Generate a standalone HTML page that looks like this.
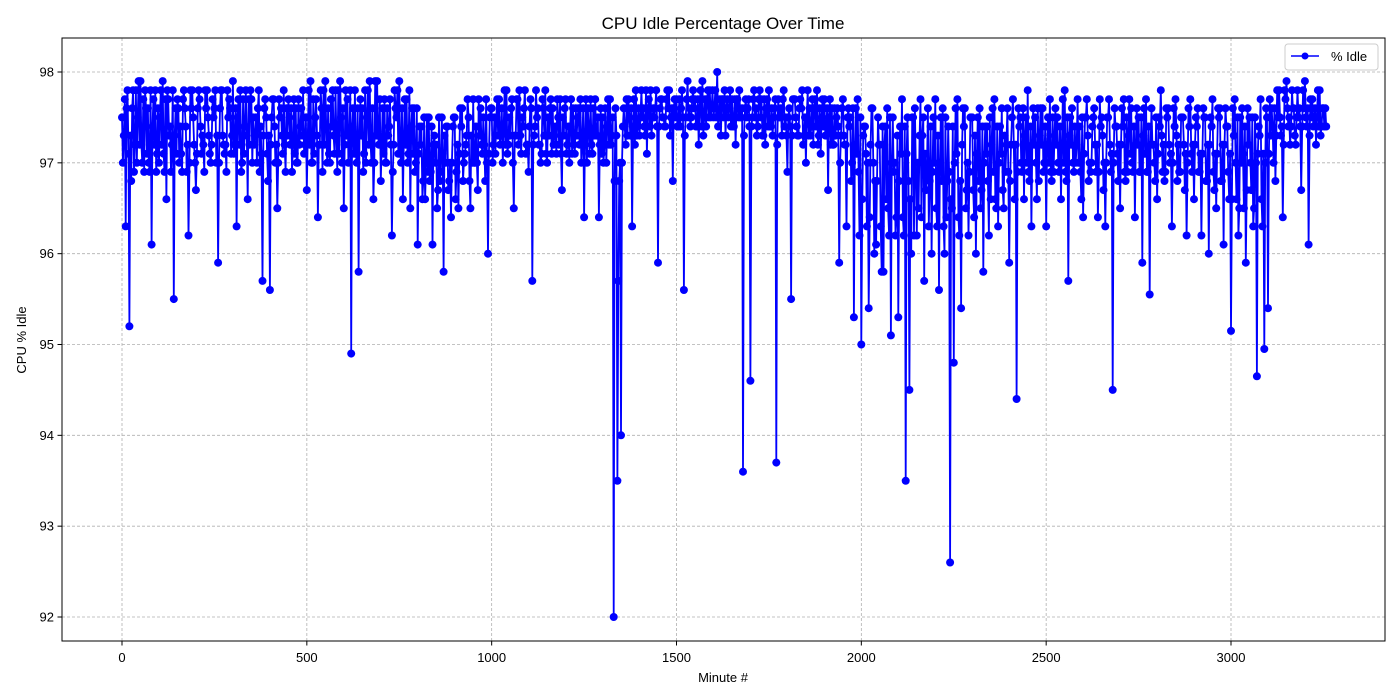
<!DOCTYPE html>
<html><head><meta charset="utf-8"><style>
html,body{margin:0;padding:0;background:#fff;}
svg{display:block;font-family:"Liberation Sans","DejaVu Sans",sans-serif;}
</style></head><body>
<svg id="chart" width="1400" height="700" xmlns="http://www.w3.org/2000/svg">
<rect width="1400" height="700" fill="#fff"/>
<text x="723" y="29" font-size="17" text-anchor="middle">CPU Idle Percentage Over Time</text>
<g id="grid"></g>
<g id="series"></g>
<rect x="62" y="38" width="1323" height="603" fill="none" stroke="#000" stroke-width="1"/>
<g id="axes"></g>
<text x="723" y="682" font-size="13" text-anchor="middle">Minute #</text>
<text x="26" y="340" font-size="13" text-anchor="middle" transform="rotate(-90 26 340)">CPU % Idle</text>
<g>
<rect x="1285" y="44" width="93" height="26" rx="3" fill="#fff" fill-opacity="0.8" stroke="#ccc"/>
<line x1="1291" y1="56" x2="1319" y2="56" stroke="#0000ff" stroke-width="1.5"/>
<circle cx="1305" cy="56" r="3.5" fill="#0000ff"/>
<text x="1331" y="61" font-size="13">% Idle</text>
</g>
</svg>
<script>
const stepMinutes = 10;
// sample at each 10-minute mark
const idleValues = [
97.5,96.3,95.2,97.8,97.0,97.9,96.9,97.6,96.1,97.8,
97.0,97.9,96.6,97.4,95.5,97.7,97.1,97.6,96.2,97.8,
96.7,97.7,97.2,97.8,97.0,97.6,95.9,97.8,97.2,97.7,
97.9,96.3,97.8,97.1,96.6,97.7,97.3,97.8,95.7,97.5,
95.6,97.7,96.5,97.6,97.2,97.7,96.9,97.6,97.2,97.8,
96.7,97.9,97.1,96.4,97.6,97.9,97.1,97.8,97.3,97.9,
96.5,97.7,94.9,97.8,95.8,97.6,97.0,97.9,96.6,97.9,
96.8,97.7,97.3,96.2,97.6,97.9,96.6,97.7,96.5,97.6,
96.1,97.4,96.6,97.5,96.1,97.2,96.8,95.8,97.4,96.4,
97.5,96.5,97.6,97.2,96.8,97.7,97.0,97.6,97.2,96.0,
97.6,97.1,97.7,97.0,97.8,97.3,96.5,97.7,97.1,97.8,
96.9,95.7,97.8,97.2,97.6,97.0,97.7,97.3,97.5,96.7,
97.7,97.0,97.6,97.3,97.7,96.4,97.6,97.2,97.7,96.4,
97.5,97.0,97.7,92.0,93.5,94.0,97.4,97.7,96.3,97.8,
97.3,97.6,97.1,97.8,97.5,95.9,97.7,97.4,97.8,96.8,
97.7,97.4,95.6,97.9,97.5,97.7,97.2,97.9,97.4,97.8,
97.5,98.0,97.3,97.8,97.5,97.7,97.2,97.8,93.6,97.5,
94.6,97.8,97.4,97.7,97.2,97.8,97.3,93.7,97.5,97.8,
96.9,95.5,97.7,97.3,97.8,97.0,97.6,97.2,97.8,97.1,
97.7,96.7,97.6,97.3,95.9,97.7,96.3,97.5,95.3,97.7,
95.0,97.4,95.4,97.6,96.1,97.2,95.8,97.6,95.1,97.0,
95.3,97.7,93.5,94.5,97.5,96.2,97.7,95.7,97.6,96.0,
97.7,95.6,97.6,96.4,92.6,94.8,97.7,95.4,97.6,96.2,
97.5,96.0,97.6,95.8,97.4,96.6,97.7,96.3,97.6,96.9,
95.9,97.7,94.4,97.5,96.6,97.8,96.3,97.5,96.8,97.6,
96.3,97.7,96.9,97.5,96.6,97.8,95.7,97.6,97.0,97.4,
96.4,97.7,96.9,97.6,96.4,97.5,96.3,97.7,94.5,97.4,
96.5,97.7,96.9,97.6,96.4,97.5,95.9,97.7,95.55,97.2,
96.6,97.8,96.8,97.6,96.3,97.7,96.9,97.5,96.2,97.7,
96.6,97.6,96.2,97.5,96.0,97.7,96.5,97.6,96.1,97.4,
95.15,97.7,96.2,97.6,95.9,97.5,96.3,94.65,97.7,94.95,
95.4,97.6,96.8,97.8,96.4,97.9,97.2,97.6,97.8,96.7,
97.9,96.1,97.7,97.2,97.8,97.6
];
// sample at each 10-minute mark + 2.5 minutes
const idleValuesQ1 = [
97.0,97.6,97.3,96.9,97.5,97.2,97.8,97.0,97.4,96.9,
97.5,97.1,97.8,96.9,97.3,97.6,96.9,97.4,97.0,97.5,
97.1,97.4,96.9,97.5,97.2,97.8,97.0,97.3,96.9,97.6,
97.1,97.5,96.9,97.4,97.7,97.0,97.5,96.9,97.3,97.1,
97.2,97.4,97.0,97.3,96.9,97.5,97.2,97.0,97.4,97.1,
97.3,97.0,97.5,97.2,96.9,97.4,97.0,97.3,96.9,97.5,
97.2,97.0,97.4,97.1,97.3,96.9,97.5,97.2,97.0,97.3,
97.2,97.0,97.4,96.9,97.5,97.1,97.3,97.0,97.4,96.9,
97.1,96.6,97.0,96.8,97.2,96.5,96.9,97.3,96.7,97.0,
96.6,97.1,96.8,97.3,96.5,97.0,96.7,97.2,96.8,97.1,
97.0,97.5,97.2,97.4,97.1,97.6,97.3,97.2,97.5,97.1,
97.4,97.2,97.5,97.0,97.3,97.5,97.1,97.4,97.2,97.5,
97.1,97.4,97.2,97.5,97.0,97.3,97.4,97.1,97.3,97.2,
97.0,97.4,97.2,96.8,95.7,97.0,97.2,97.5,97.4,97.3,
97.5,97.4,97.6,97.3,97.6,97.4,97.5,97.7,97.3,97.6,
97.4,97.6,97.3,97.5,97.7,97.4,97.6,97.3,97.7,97.5,
97.6,97.4,97.7,97.3,97.6,97.4,97.7,97.5,97.3,97.6,
97.4,97.5,97.7,97.3,97.6,97.4,97.5,97.2,97.6,97.4,
97.5,97.3,97.5,97.6,97.2,97.5,97.3,97.6,97.2,97.5,
97.3,97.5,97.2,97.5,97.0,97.3,97.5,96.8,97.2,96.9,
96.6,97.1,96.4,97.0,96.8,96.3,97.2,96.5,97.0,96.2,
96.8,96.4,97.1,96.6,96.2,97.0,96.4,97.1,96.3,96.9,
96.5,97.0,96.3,96.8,96.6,97.0,96.4,97.2,96.5,96.9,
96.7,97.1,96.5,97.0,96.8,97.2,96.6,97.0,96.7,97.2,
96.8,97.2,96.9,97.0,97.3,96.9,97.2,97.0,97.3,96.9,
97.2,96.9,97.3,97.0,97.2,96.9,97.3,97.0,97.2,96.9,
97.1,97.3,97.0,97.2,96.9,97.3,97.0,97.2,97.0,97.1,
97.2,96.9,97.3,97.0,97.2,96.9,97.3,96.9,97.2,97.0,
97.1,97.3,96.9,97.2,97.0,97.3,96.9,97.2,97.0,97.1,
97.2,96.9,97.1,96.8,97.2,96.9,97.1,96.8,97.2,96.9,
96.6,97.0,96.5,97.1,96.7,97.0,96.5,97.1,96.6,97.0,
97.1,97.4,97.3,97.5,97.2,97.6,97.4,97.3,97.5,97.4,
97.5,97.3,97.4,97.5,97.3,97.4
];
// sample at each 10-minute mark + 5 minutes
const idleValuesMid = [
97.3,97.8,96.8,97.2,97.9,97.0,97.6,96.9,97.7,97.1,
97.8,96.9,97.7,97.2,97.6,97.0,97.7,96.9,97.8,97.2,
97.6,97.1,97.8,97.3,97.7,97.0,97.6,97.2,97.8,97.1,
97.2,97.7,97.0,97.8,97.2,97.5,97.0,97.4,97.6,96.8,
97.5,97.0,97.7,97.1,97.6,97.2,97.7,97.0,97.6,97.2,
97.8,97.0,97.7,97.2,97.8,97.0,97.7,97.1,97.8,97.0,
97.8,97.2,97.6,97.0,97.7,97.1,97.8,97.0,97.9,97.2,
97.6,97.0,97.7,97.2,97.8,97.0,97.7,97.1,97.6,97.0,
97.4,96.8,97.5,96.9,97.3,96.7,97.5,97.0,96.8,97.4,
96.9,97.6,97.0,97.7,97.3,97.0,97.7,97.1,97.7,97.5,
97.2,97.7,97.3,97.8,97.2,97.7,97.3,97.8,97.4,97.2,
97.7,97.3,97.6,97.1,97.8,97.3,97.6,97.1,97.7,97.3,
97.2,97.7,97.1,97.6,97.2,97.7,97.1,97.6,97.3,97.6,
97.2,97.7,97.3,97.6,96.8,97.4,97.7,97.3,97.7,97.4,
97.8,97.3,97.7,97.5,97.8,97.6,97.5,97.8,97.5,97.7,
97.4,97.8,97.5,97.6,97.8,97.4,97.8,97.5,97.8,97.6,
97.8,97.5,97.7,97.6,97.8,97.4,97.7,97.5,97.6,97.7,
97.5,97.6,97.8,97.3,97.7,97.4,97.6,97.7,97.3,97.5,
97.6,97.7,97.4,97.7,97.3,97.8,97.4,97.7,97.3,97.7,
97.3,97.7,97.2,97.6,97.3,97.2,97.6,97.0,97.6,96.2,
97.3,96.3,97.2,96.0,97.5,95.8,97.4,96.2,97.5,96.4,
97.4,96.2,97.5,96.0,97.6,96.5,97.3,96.7,96.8,97.5,
96.3,97.5,96.0,97.4,96.5,97.6,96.2,97.6,96.7,97.5,
96.4,97.5,96.7,97.4,96.2,97.6,96.5,97.4,96.5,97.6,
97.2,96.6,97.6,96.9,97.5,96.8,97.6,96.6,97.6,97.0,
97.5,96.8,97.6,96.9,97.7,96.8,97.5,96.9,97.7,96.6,
97.5,96.8,97.4,96.9,97.7,96.7,97.5,96.9,97.6,96.8,
97.6,96.8,97.7,96.9,97.6,96.9,97.6,96.9,97.6,96.8,
97.5,96.9,97.6,97.0,97.6,96.8,97.5,96.7,97.6,96.9,
97.5,96.9,97.6,96.8,97.5,96.7,97.6,96.8,97.6,96.6,
97.6,96.6,97.5,96.5,97.6,96.7,97.5,97.4,96.3,97.6,
97.7,97.0,97.8,97.3,97.8,97.4,97.8,97.2,97.6,97.8,
97.4,97.7,97.5,97.8,97.4,97.6
];
// sample at each 10-minute mark + 7.5 minutes
const idleValuesQ3 = [
97.7,97.1,97.6,97.8,97.2,97.7,97.1,97.8,97.2,97.6,
97.2,97.7,97.3,97.8,97.1,97.4,97.8,97.2,97.6,97.0,
97.8,97.3,97.6,97.1,97.5,97.3,97.8,97.1,97.5,97.3,
97.6,97.2,97.7,97.3,97.8,97.2,97.6,97.1,97.7,97.3,
97.7,97.2,97.5,97.8,97.3,97.6,97.1,97.7,97.3,97.5,
97.2,97.7,97.3,97.8,97.2,97.6,97.4,97.8,97.1,97.6,
97.3,97.8,97.1,97.6,97.3,97.8,97.2,97.6,97.3,97.7,
97.1,97.6,97.2,97.8,97.1,97.6,97.2,97.8,97.1,97.6,
97.2,97.5,96.9,97.4,97.0,97.5,97.1,97.4,97.0,97.5,
97.2,97.4,97.1,97.5,97.0,97.4,97.3,97.5,97.0,97.6,
97.5,97.3,97.6,97.2,97.5,97.0,97.7,97.3,97.6,97.2,
97.6,97.4,97.2,97.7,97.1,97.6,97.2,97.7,97.1,97.6,
97.4,97.1,97.6,97.2,97.6,97.0,97.7,97.3,97.5,97.1,
97.6,97.2,97.5,97.3,97.0,97.6,97.3,97.6,97.2,97.6,
97.5,97.8,97.4,97.6,97.4,97.7,97.4,97.6,97.6,97.5,
97.7,97.5,97.7,97.4,97.6,97.7,97.4,97.7,97.5,97.8,
97.5,97.7,97.5,97.7,97.4,97.7,97.5,97.6,97.7,97.4,
97.7,97.3,97.5,97.7,97.4,97.6,97.7,97.5,97.7,97.3,
97.4,97.7,97.3,97.6,97.5,97.3,97.7,97.4,97.6,97.4,
97.6,97.2,97.6,97.4,97.6,97.2,97.4,97.6,97.1,97.5,
97.4,97.0,97.6,96.8,97.2,97.4,96.6,97.5,96.9,97.3,
97.1,97.4,96.8,97.5,96.9,97.3,97.5,96.9,97.4,97.0,
97.3,96.8,97.5,96.9,97.4,97.1,96.8,97.4,97.0,97.5,
97.3,96.8,97.4,97.1,97.5,96.9,97.4,97.1,97.3,96.9,
97.5,97.2,97.4,97.6,97.0,97.4,97.2,97.6,97.2,97.4,
97.0,97.5,97.2,97.4,97.0,97.5,97.2,97.4,97.0,97.5,
97.5,97.0,97.5,97.2,97.4,97.0,97.5,97.1,97.4,97.2,
97.4,97.5,97.1,97.4,97.2,97.5,97.1,97.4,97.2,97.5,
97.4,97.2,97.5,97.1,97.4,97.2,97.5,97.1,97.4,97.2,
97.4,97.1,97.5,97.2,97.4,97.1,97.5,97.2,97.4,97.1,
97.3,97.5,97.0,97.4,97.2,97.5,97.0,97.3,97.1,97.5,
97.3,97.6,97.5,97.4,97.7,97.5,97.6,97.5,97.4,97.6,
97.6,97.5,97.6,97.4,97.6,97.4
];
const xTicks = [0,500,1000,1500,2000,2500,3000];
const yTicks = [92,93,94,95,96,97,98];

const NS = "http://www.w3.org/2000/svg";
const xScale = v => 122 + (v - 0) * (1231 - 122) / 3000;
const yScale = v => 617 - (v - 92) * (617 - 72) / 6;
function mk(tag, attrs, parent){ const e=document.createElementNS(NS,tag); for(const k in attrs) e.setAttribute(k,attrs[k]); parent.appendChild(e); return e; }
const grid=document.getElementById('grid'), axes=document.getElementById('axes'), series=document.getElementById('series');

xTicks.forEach(t=>{
  const x=xScale(t);
  const g=mk('line',{x1:x,x2:x,y1:38,y2:641,stroke:'#b0b0b0','stroke-width':0.8,'stroke-dasharray':'3,2'},grid);
  
  
  mk('line',{x1:x,x2:x,y1:641,y2:645.5,stroke:'#000'},axes);
  const l=mk('text',{x:x,y:662,'font-size':13,'text-anchor':'middle'},axes);
  l.textContent=t;
  
  
});
yTicks.forEach(t=>{
  const y=yScale(t);
  const g=mk('line',{x1:62,x2:1385,y1:y,y2:y,stroke:'#b0b0b0','stroke-width':0.8,'stroke-dasharray':'3,2'},grid);
  
  
  mk('line',{x1:57.5,x2:62,y1:y,y2:y,stroke:'#000'},axes);
  const l=mk('text',{x:54,y:y+4.5,'font-size':13,'text-anchor':'end'},axes);
  l.textContent=t;
  
  
});

const pts=[];
const q=stepMinutes/4;
idleValues.forEach((v,i)=>{
  const m=i*stepMinutes;
  pts.push([xScale(m),yScale(v)]);
  if(i<idleValuesQ1.length) pts.push([xScale(m+q),yScale(idleValuesQ1[i])]);
  if(i<idleValuesMid.length) pts.push([xScale(m+2*q),yScale(idleValuesMid[i])]);
  if(i<idleValuesQ3.length) pts.push([xScale(m+3*q),yScale(idleValuesQ3[i])]);
});
const line=mk('polyline',{points:pts.map(p=>p[0].toFixed(1)+','+p[1].toFixed(1)).join(' '),fill:'none',stroke:'#0000ff','stroke-width':1.8,'stroke-linejoin':'round'},series);


pts.forEach(p=>{
  const c=mk('circle',{cx:p[0].toFixed(1),cy:p[1].toFixed(1),r:4,fill:'#0000ff'},series);
  
  
});
</script>
</body></html>
